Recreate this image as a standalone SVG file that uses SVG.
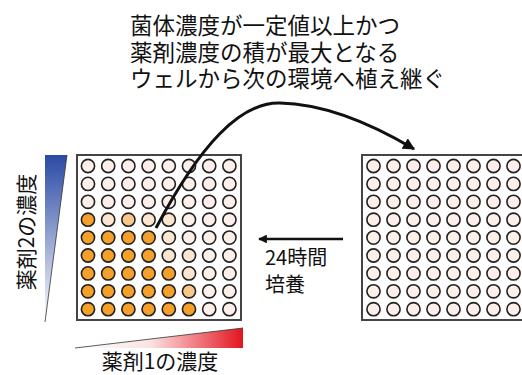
<svg xmlns="http://www.w3.org/2000/svg" width="522" height="375" viewBox="0 0 522 375">
<style>
text{font-family:"Noto Sans CJK JP","Noto Sans",sans-serif;fill:#111}
.plate{fill:#fff;stroke:#444;stroke-width:2}
.w{stroke:#222;stroke-width:1.6}
.p{fill:#fdf0ea}
.q{fill:#fde6cf}
.l{fill:#f8c88a}
.o{fill:#f5a02a}
</style>
<defs>
<linearGradient id="gb" x1="0" y1="0" x2="0" y2="1">
<stop offset="0" stop-color="#2b4aa5"/>
<stop offset="1" stop-color="#ffffff"/>
</linearGradient>
<linearGradient id="gr" x1="0" y1="0" x2="1" y2="0">
<stop offset="0" stop-color="#ffffff"/>
<stop offset="0.45" stop-color="#fbe2e2"/>
<stop offset="1" stop-color="#e3141f"/>
</linearGradient>
<marker id="ah" viewBox="0 0 10 10" refX="9" refY="5" markerWidth="4" markerHeight="4" orient="auto" markerUnits="strokeWidth">
<path d="M0,0L10,5L0,10z" fill="#111"/>
</marker>
<marker id="ah2" viewBox="0 0 10 10" refX="9" refY="5" markerWidth="3.5" markerHeight="3.5" orient="auto" markerUnits="strokeWidth">
<path d="M0,0L10,5L0,10z" fill="#111"/>
</marker>
</defs>

<g id="title">
<text font-size="22.5"><tspan x="130" y="34">菌体濃度が一定値以上かつ</tspan><tspan x="130" y="61">薬剤濃度の積が最大となる</tspan><tspan x="130" y="87">ウェルから次の環境へ植え継ぐ</tspan></text>
</g>

<g id="drug2-gradient">
<polygon points="45,155 67,155 45,322" fill="url(#gb)"/>
<line x1="67" y1="155" x2="45" y2="322" stroke="#333" stroke-width="0.8"/>
<text transform="translate(34,232) rotate(-90)" text-anchor="middle" font-size="21">薬剤2の濃度</text>
</g>

<g id="drug1-gradient">
<polygon points="75,348 243,328 243,348" fill="url(#gr)"/>
<line x1="75" y1="348" x2="243" y2="328" stroke="#333" stroke-width="0.8"/>
<text x="160" y="369" text-anchor="middle" font-size="21">薬剤1の濃度</text>
</g>

<g id="left-plate">
<rect class="plate" x="77" y="155" width="164" height="165"/>
<g transform="translate(88,166)">
<circle class="w p" cx="0" cy="0" r="6.6"/><circle class="w p" cx="20.2" cy="0" r="6.6"/><circle class="w p" cx="40.4" cy="0" r="6.6"/><circle class="w p" cx="60.6" cy="0" r="6.6"/><circle class="w p" cx="80.8" cy="0" r="6.6"/><circle class="w p" cx="101" cy="0" r="6.6"/><circle class="w p" cx="121.2" cy="0" r="6.6"/><circle class="w p" cx="141.4" cy="0" r="6.6"/>
<circle class="w p" cx="0" cy="17.9" r="6.6"/><circle class="w p" cx="20.2" cy="17.9" r="6.6"/><circle class="w p" cx="40.4" cy="17.9" r="6.6"/><circle class="w p" cx="60.6" cy="17.9" r="6.6"/><circle class="w p" cx="80.8" cy="17.9" r="6.6"/><circle class="w p" cx="101" cy="17.9" r="6.6"/><circle class="w p" cx="121.2" cy="17.9" r="6.6"/><circle class="w p" cx="141.4" cy="17.9" r="6.6"/>
<circle class="w p" cx="0" cy="35.8" r="6.6"/><circle class="w p" cx="20.2" cy="35.8" r="6.6"/><circle class="w p" cx="40.4" cy="35.8" r="6.6"/><circle class="w p" cx="60.6" cy="35.8" r="6.6"/><circle class="w p" cx="80.8" cy="35.8" r="6.6"/><circle class="w p" cx="101" cy="35.8" r="6.6"/><circle class="w p" cx="121.2" cy="35.8" r="6.6"/><circle class="w p" cx="141.4" cy="35.8" r="6.6"/>
<circle class="w o" cx="0" cy="53.7" r="6.6"/><circle class="w q" cx="20.2" cy="53.7" r="6.6"/><circle class="w l" cx="40.4" cy="53.7" r="6.6"/><circle class="w q" cx="60.6" cy="53.7" r="6.6"/><circle class="w q" cx="80.8" cy="53.7" r="6.6"/><circle class="w p" cx="101" cy="53.7" r="6.6"/><circle class="w p" cx="121.2" cy="53.7" r="6.6"/><circle class="w p" cx="141.4" cy="53.7" r="6.6"/>
<circle class="w o" cx="0" cy="71.6" r="6.6"/><circle class="w o" cx="20.2" cy="71.6" r="6.6"/><circle class="w o" cx="40.4" cy="71.6" r="6.6"/><circle class="w o" cx="60.6" cy="71.6" r="6.6"/><circle class="w q" cx="80.8" cy="71.6" r="6.6"/><circle class="w p" cx="101" cy="71.6" r="6.6"/><circle class="w p" cx="121.2" cy="71.6" r="6.6"/><circle class="w p" cx="141.4" cy="71.6" r="6.6"/>
<circle class="w o" cx="0" cy="89.5" r="6.6"/><circle class="w o" cx="20.2" cy="89.5" r="6.6"/><circle class="w o" cx="40.4" cy="89.5" r="6.6"/><circle class="w o" cx="60.6" cy="89.5" r="6.6"/><circle class="w q" cx="80.8" cy="89.5" r="6.6"/><circle class="w q" cx="101" cy="89.5" r="6.6"/><circle class="w p" cx="121.2" cy="89.5" r="6.6"/><circle class="w p" cx="141.4" cy="89.5" r="6.6"/>
<circle class="w o" cx="0" cy="107.4" r="6.6"/><circle class="w o" cx="20.2" cy="107.4" r="6.6"/><circle class="w o" cx="40.4" cy="107.4" r="6.6"/><circle class="w o" cx="60.6" cy="107.4" r="6.6"/><circle class="w o" cx="80.8" cy="107.4" r="6.6"/><circle class="w q" cx="101" cy="107.4" r="6.6"/><circle class="w p" cx="121.2" cy="107.4" r="6.6"/><circle class="w p" cx="141.4" cy="107.4" r="6.6"/>
<circle class="w o" cx="0" cy="125.3" r="6.6"/><circle class="w o" cx="20.2" cy="125.3" r="6.6"/><circle class="w o" cx="40.4" cy="125.3" r="6.6"/><circle class="w o" cx="60.6" cy="125.3" r="6.6"/><circle class="w o" cx="80.8" cy="125.3" r="6.6"/><circle class="w l" cx="101" cy="125.3" r="6.6"/><circle class="w p" cx="121.2" cy="125.3" r="6.6"/><circle class="w p" cx="141.4" cy="125.3" r="6.6"/>
<circle class="w o" cx="0" cy="143.2" r="6.6"/><circle class="w o" cx="20.2" cy="143.2" r="6.6"/><circle class="w o" cx="40.4" cy="143.2" r="6.6"/><circle class="w o" cx="60.6" cy="143.2" r="6.6"/><circle class="w o" cx="80.8" cy="143.2" r="6.6"/><circle class="w o" cx="101" cy="143.2" r="6.6"/><circle class="w p" cx="121.2" cy="143.2" r="6.6"/><circle class="w p" cx="141.4" cy="143.2" r="6.6"/>
</g>
</g>

<g id="right-plate">
<rect class="plate" x="362" y="155" width="170" height="165"/>
<g transform="translate(373.5,166)">
<circle class="w p" cx="0" cy="0" r="6.6"/><circle class="w p" cx="20" cy="0" r="6.6"/><circle class="w p" cx="40" cy="0" r="6.6"/><circle class="w p" cx="60" cy="0" r="6.6"/><circle class="w p" cx="80" cy="0" r="6.6"/><circle class="w p" cx="100" cy="0" r="6.6"/><circle class="w p" cx="120" cy="0" r="6.6"/><circle class="w p" cx="140" cy="0" r="6.6"/>
<circle class="w p" cx="0" cy="17.9" r="6.6"/><circle class="w p" cx="20" cy="17.9" r="6.6"/><circle class="w p" cx="40" cy="17.9" r="6.6"/><circle class="w p" cx="60" cy="17.9" r="6.6"/><circle class="w p" cx="80" cy="17.9" r="6.6"/><circle class="w p" cx="100" cy="17.9" r="6.6"/><circle class="w p" cx="120" cy="17.9" r="6.6"/><circle class="w p" cx="140" cy="17.9" r="6.6"/>
<circle class="w p" cx="0" cy="35.8" r="6.6"/><circle class="w p" cx="20" cy="35.8" r="6.6"/><circle class="w p" cx="40" cy="35.8" r="6.6"/><circle class="w p" cx="60" cy="35.8" r="6.6"/><circle class="w p" cx="80" cy="35.8" r="6.6"/><circle class="w p" cx="100" cy="35.8" r="6.6"/><circle class="w p" cx="120" cy="35.8" r="6.6"/><circle class="w p" cx="140" cy="35.8" r="6.6"/>
<circle class="w p" cx="0" cy="53.7" r="6.6"/><circle class="w p" cx="20" cy="53.7" r="6.6"/><circle class="w p" cx="40" cy="53.7" r="6.6"/><circle class="w p" cx="60" cy="53.7" r="6.6"/><circle class="w p" cx="80" cy="53.7" r="6.6"/><circle class="w p" cx="100" cy="53.7" r="6.6"/><circle class="w p" cx="120" cy="53.7" r="6.6"/><circle class="w p" cx="140" cy="53.7" r="6.6"/>
<circle class="w p" cx="0" cy="71.6" r="6.6"/><circle class="w p" cx="20" cy="71.6" r="6.6"/><circle class="w p" cx="40" cy="71.6" r="6.6"/><circle class="w p" cx="60" cy="71.6" r="6.6"/><circle class="w p" cx="80" cy="71.6" r="6.6"/><circle class="w p" cx="100" cy="71.6" r="6.6"/><circle class="w p" cx="120" cy="71.6" r="6.6"/><circle class="w p" cx="140" cy="71.6" r="6.6"/>
<circle class="w p" cx="0" cy="89.5" r="6.6"/><circle class="w p" cx="20" cy="89.5" r="6.6"/><circle class="w p" cx="40" cy="89.5" r="6.6"/><circle class="w p" cx="60" cy="89.5" r="6.6"/><circle class="w p" cx="80" cy="89.5" r="6.6"/><circle class="w p" cx="100" cy="89.5" r="6.6"/><circle class="w p" cx="120" cy="89.5" r="6.6"/><circle class="w p" cx="140" cy="89.5" r="6.6"/>
<circle class="w p" cx="0" cy="107.4" r="6.6"/><circle class="w p" cx="20" cy="107.4" r="6.6"/><circle class="w p" cx="40" cy="107.4" r="6.6"/><circle class="w p" cx="60" cy="107.4" r="6.6"/><circle class="w p" cx="80" cy="107.4" r="6.6"/><circle class="w p" cx="100" cy="107.4" r="6.6"/><circle class="w p" cx="120" cy="107.4" r="6.6"/><circle class="w p" cx="140" cy="107.4" r="6.6"/>
<circle class="w p" cx="0" cy="125.3" r="6.6"/><circle class="w p" cx="20" cy="125.3" r="6.6"/><circle class="w p" cx="40" cy="125.3" r="6.6"/><circle class="w p" cx="60" cy="125.3" r="6.6"/><circle class="w p" cx="80" cy="125.3" r="6.6"/><circle class="w p" cx="100" cy="125.3" r="6.6"/><circle class="w p" cx="120" cy="125.3" r="6.6"/><circle class="w p" cx="140" cy="125.3" r="6.6"/>
<circle class="w p" cx="0" cy="143.2" r="6.6"/><circle class="w p" cx="20" cy="143.2" r="6.6"/><circle class="w p" cx="40" cy="143.2" r="6.6"/><circle class="w p" cx="60" cy="143.2" r="6.6"/><circle class="w p" cx="80" cy="143.2" r="6.6"/><circle class="w p" cx="100" cy="143.2" r="6.6"/><circle class="w p" cx="120" cy="143.2" r="6.6"/><circle class="w p" cx="140" cy="143.2" r="6.6"/>
</g>
</g>

<g id="connectors">
<path d="M156,228 C200,145 240,102 280,103 C325,104 372,124 414,149" fill="none" stroke="#111" stroke-width="3" marker-end="url(#ah)"/>
<line x1="343" y1="239" x2="259" y2="239" stroke="#111" stroke-width="2.5" marker-end="url(#ah2)"/>
</g>

<g id="culture-label">
<text x="265" y="265" font-size="20">24時間</text>
<text x="265" y="292" font-size="20">培養</text>
</g>
</svg>
